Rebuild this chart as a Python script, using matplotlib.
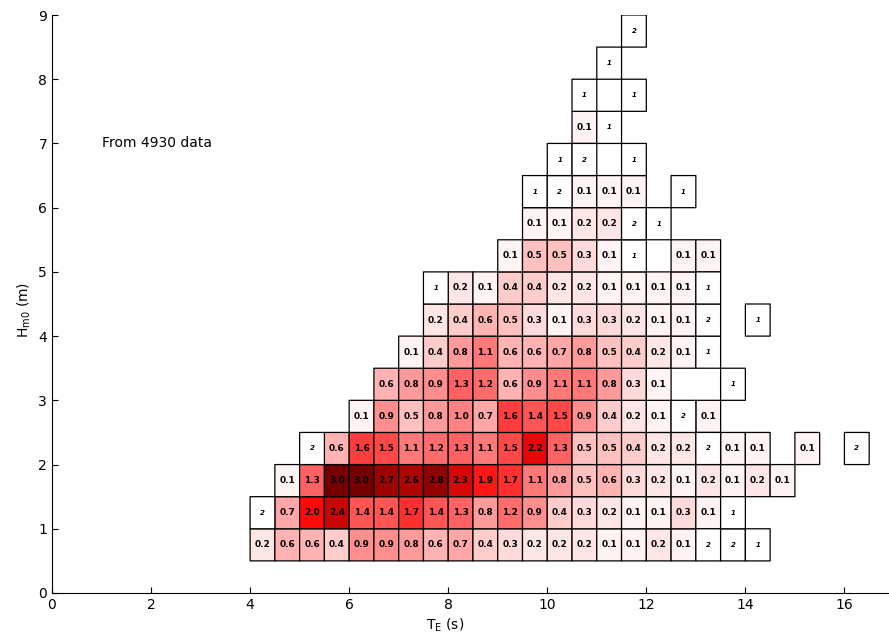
import numpy as np
import matplotlib
matplotlib.use("Agg")
import matplotlib.pyplot as plt
from matplotlib.colors import LinearSegmentedColormap

plt.rcParams['font.family'] = ['DejaVu Sans']
plt.rcParams['mathtext.default'] = 'regular'

# Bin edges: energy period T_E (s) and significant wave height Hm0 (m)
te_edges = np.arange(4.0, 16.5 + 0.01, 0.5)      # 25 bins, 4.0 .. 16.5
hm0_edges = np.arange(0.5, 9.0 + 0.01, 0.5)      # 17 bins, 0.5 .. 9.0

N = None
# Percentage of occurrence per bin (row = Hm0 bin from low to high, col = T_E bin)
# numbers = percent, 'c1'/'c2' = raw count of 1 or 2 records (too few for a percentage)
occ_rows = [
    [0.2, 0.6, 0.6, 0.4, 0.9, 0.9, 0.8, 0.6, 0.7, 0.4, 0.3, 0.2, 0.2, 0.2, 0.1, 0.1, 0.2, 0.1, 'c2', 'c2', 'c1', N, N, N, N],
    ['c2', 0.7, 2.0, 2.4, 1.4, 1.4, 1.7, 1.4, 1.3, 0.8, 1.2, 0.9, 0.4, 0.3, 0.2, 0.1, 0.1, 0.3, 0.1, 'c1', N, N, N, N, N],
    [N, 0.1, 1.3, 3.0, 3.0, 2.7, 2.6, 2.8, 2.3, 1.9, 1.7, 1.1, 0.8, 0.5, 0.6, 0.3, 0.2, 0.1, 0.2, 0.1, 0.2, 0.1, N, N, N],
    [N, N, 'c2', 0.6, 1.6, 1.5, 1.1, 1.2, 1.3, 1.1, 1.5, 2.2, 1.3, 0.5, 0.5, 0.4, 0.2, 0.2, 'c2', 0.1, 0.1, N, 0.1, N, 'c2'],
    [N, N, N, N, 0.1, 0.9, 0.5, 0.8, 1.0, 0.7, 1.6, 1.4, 1.5, 0.9, 0.4, 0.2, 0.1, 'c2', 0.1, N, N, N, N, N, N],
    [N, N, N, N, N, 0.6, 0.8, 0.9, 1.3, 1.2, 0.6, 0.9, 1.1, 1.1, 0.8, 0.3, 0.1, N, N, 'c1', N, N, N, N, N],
    [N, N, N, N, N, N, 0.1, 0.4, 0.8, 1.1, 0.6, 0.6, 0.7, 0.8, 0.5, 0.4, 0.2, 0.1, 'c1', N, N, N, N, N, N],
    [N, N, N, N, N, N, N, 0.2, 0.4, 0.6, 0.5, 0.3, 0.1, 0.3, 0.3, 0.2, 0.1, 0.1, 'c2', N, 'c1', N, N, N, N],
    [N, N, N, N, N, N, N, 'c1', 0.2, 0.1, 0.4, 0.4, 0.2, 0.2, 0.1, 0.1, 0.1, 0.1, 'c1', N, N, N, N, N, N],
    [N, N, N, N, N, N, N, N, N, N, 0.1, 0.5, 0.5, 0.3, 0.1, 'c1', N, 0.1, 0.1, N, N, N, N, N, N],
    [N, N, N, N, N, N, N, N, N, N, N, 0.1, 0.1, 0.2, 0.2, 'c2', 'c1', N, N, N, N, N, N, N, N],
    [N, N, N, N, N, N, N, N, N, N, N, 'c1', 'c2', 0.1, 0.1, 0.1, N, 'c1', N, N, N, N, N, N, N],
    [N, N, N, N, N, N, N, N, N, N, N, N, 'c1', 'c2', N, 'c1', N, N, N, N, N, N, N, N, N],
    [N, N, N, N, N, N, N, N, N, N, N, N, N, 0.1, 'c1', N, N, N, N, N, N, N, N, N, N],
    [N, N, N, N, N, N, N, N, N, N, N, N, N, 'c1', N, 'c1', N, N, N, N, N, N, N, N, N],
    [N, N, N, N, N, N, N, N, N, N, N, N, N, N, 'c1', N, N, N, N, N, N, N, N, N, N],
    [N, N, N, N, N, N, N, N, N, N, N, N, N, N, N, 'c2', N, N, N, N, N, N, N, N, N],
]

annotation = "From 4930 data"
x_ticks = [0, 2, 4, 6, 8, 10, 12, 14, 16]
y_ticks = [0, 1, 2, 3, 4, 5, 6, 7, 8, 9]

nrow, ncol = len(occ_rows), len(occ_rows[0])
pct = np.full((nrow, ncol), np.nan)
cnt = np.full((nrow, ncol), np.nan)
for j, row in enumerate(occ_rows):
    for k, v in enumerate(row):
        if v is None:
            continue
        if isinstance(v, str):
            cnt[j, k] = int(v[1:])
        else:
            pct[j, k] = v

cmap = LinearSegmentedColormap.from_list(
    "wr", [(0.0, "#ffffff"), (0.25, "#ffa0a0"), (0.5, "#ff4a4a"),
           (2.0 / 3.0, "#ff0a0a"), (1.0, "#760000")])

fig = plt.figure(figsize=(8.89, 6.37), dpi=100)
ax = fig.add_axes([52 / 889, 1 - 593 / 637, 1 - 52 / 889, (593 - 15) / 637])

lw = 0.9
ax.pcolor(te_edges, hm0_edges, np.ma.masked_invalid(pct), cmap=cmap,
          vmin=0, vmax=3.0, edgecolors='black', linewidth=lw)
white = LinearSegmentedColormap.from_list("w", ["#ffffff", "#ffffff"])
ax.pcolor(te_edges, hm0_edges, np.ma.masked_invalid(cnt), cmap=white,
          vmin=0, vmax=3, edgecolors='black', linewidth=lw)

xc = 0.5 * (te_edges[:-1] + te_edges[1:])
yc = 0.5 * (hm0_edges[:-1] + hm0_edges[1:])
for j in range(nrow):
    for k in range(ncol):
        if not np.isnan(pct[j, k]):
            ax.text(xc[k], yc[j], f"{pct[j, k]:.1f}", ha='center', va='center',
                    fontsize=6.5, fontweight='bold', color='black')
        elif not np.isnan(cnt[j, k]):
            ax.text(xc[k], yc[j], f"{int(cnt[j, k])}", ha='center', va='center',
                    fontsize=5, fontweight='bold', fontstyle='italic', color='black')

ax.text(1.0, 7.0, annotation, ha='left', va='center', fontsize=10)

ax.set_xlim(0, 16.9)
ax.set_ylim(0, 9)
ax.set_xticks(x_ticks)
ax.set_yticks(y_ticks)
ax.tick_params(direction='in', length=4, labelsize=10, width=0.8)
ax.spines['top'].set_visible(False)
ax.spines['right'].set_visible(False)
ax.set_xlabel(r'T$_E$ (s)', fontsize=10)
ax.set_ylabel(r'H$_{m0}$ (m)', fontsize=10)
ax.xaxis.set_label_coords((445 - 52) / 837, -0.04)
ax.yaxis.set_label_coords(-0.023, 0.49)

fig.savefig("out.png", dpi=100)
